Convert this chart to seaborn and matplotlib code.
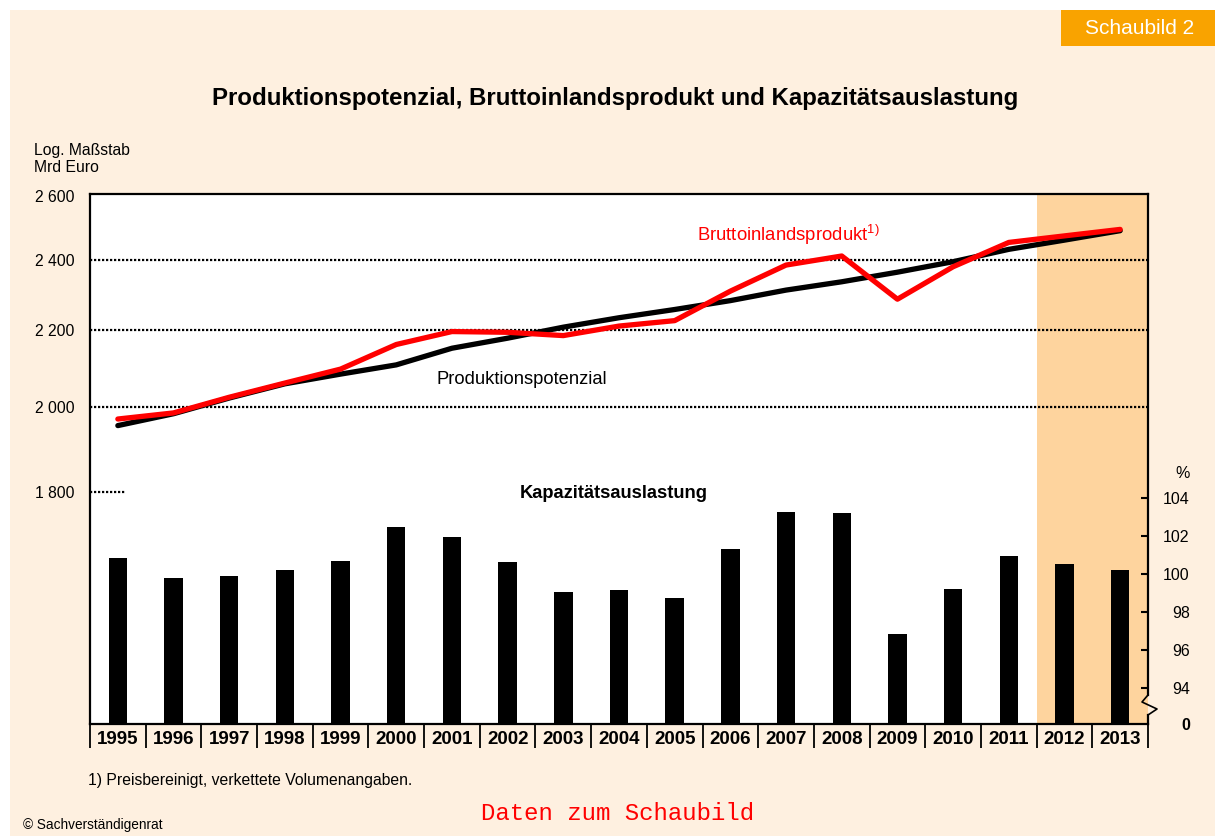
import numpy as np
import pandas as pd
import seaborn as sns
import matplotlib.pyplot as plt
from matplotlib.patches import Rectangle
from matplotlib.ticker import FixedLocator, NullLocator
from matplotlib.transforms import blended_transform_factory

# data
years = [str(y) for y in range(1995, 2014)]
potenzial = [1954, 1983, 2022, 2058, 2083, 2107, 2151, 2178, 2208, 2234,
             2257, 2282, 2312, 2336, 2364, 2395, 2432, 2460, 2489]
bip = [1970, 1985, 2024, 2060, 2096, 2161, 2196, 2194, 2185, 2211,
       2226, 2309, 2385, 2412, 2286, 2380, 2453, 2473, 2493]
auslastung = [100.88, 99.83, 99.93, 100.25, 100.72, 102.51, 101.98, 100.67, 99.09, 99.19,
              98.77, 101.35, 103.3, 103.25, 96.88, 99.25, 100.98, 100.56, 100.25]
prognose_years = ['2012', '2013']
left_ticks = [1800, 2000, 2200, 2400, 2600]
left_labels = ['1 800', '2 000', '2 200', '2 400', '2 600']
right_ticks = [94, 96, 98, 100, 102, 104]

df = pd.DataFrame({'Jahr': years, 'Potenzial': potenzial, 'BIP': bip,
                   'Auslastung': auslastung})

W, H = 1215, 836
BG = '#FEF0E0'
SHADE = '#FED49E'

plt.rcParams['font.family'] = ['Liberation Sans', 'DejaVu Sans']
plt.rcParams['mathtext.default'] = 'regular'


def fx(x):
    return x / W


def fy(y):
    return 1 - y / H


fig = plt.figure(figsize=(W / 100, H / 100), dpi=100, facecolor='white')
fig.add_artist(Rectangle((fx(10), 0), 1, fy(10), transform=fig.transFigure,
                         facecolor=BG, edgecolor='none', zorder=0))
fig.add_artist(Rectangle((fx(1061), fy(46)), fx(W - 1061), 36 / H,
                         transform=fig.transFigure, facecolor='#F9A300',
                         edgecolor='none', zorder=1))
fig.text(fx(1140), fy(28), 'Schaubild 2', color='white', fontsize=15,
         ha='center', va='center')

ax = fig.add_axes([fx(90), fy(724), fx(1148 - 90), 530 / H])
ax.set_facecolor('white')

# log scale lines
sns.lineplot(data=df, x='Jahr', y='Potenzial', ax=ax, color='black', lw=3.8,
             solid_capstyle='round', zorder=4)
sns.lineplot(data=df, x='Jahr', y='BIP', ax=ax, color='#FF0000', lw=3.8,
             solid_capstyle='round', zorder=5)
ax.set_yscale('log')
ax.set_ylim(1349, 2605)
ax.yaxis.set_major_locator(FixedLocator(left_ticks))
ax.yaxis.set_minor_locator(NullLocator())
ax.set_yticklabels(left_labels)
ax.tick_params(axis='y', length=0, pad=11, labelsize=11.3)
ax.set_xlabel('')
ax.set_ylabel('')

start = years.index(prognose_years[0]) - 0.5
end = years.index(prognose_years[-1]) + 0.5
ax.axvspan(start, end, color=SHADE, lw=0, zorder=0)

for v in left_ticks[1:-1]:
    ax.axhline(v, color='black', lw=1.6, ls=(0, (1, 0.8)), zorder=2)
ax.axhline(left_ticks[0], xmax=35 / 1058, color='black', lw=1.6,
           ls=(0, (1, 0.8)), zorder=2)

# capacity bars on a second axis
ax2 = ax.twinx()
sns.barplot(data=df, x='Jahr', y='Auslastung', ax=ax2, color='black',
            saturation=1, width=0.33, zorder=3)
ax2.set_ylim(92.13, 120)
ax2.set_yticks(right_ticks)
ax2.tick_params(axis='y', direction='in', length=5, width=1.5, pad=30,
                labelsize=11.5)
for lbl in ax2.get_yticklabels():
    lbl.set_ha('right')
ax2.set_ylabel('')
ax2.set_xlabel('')

ax.set_xlim(-0.5, len(years) - 0.5)
ax.set_xticks(range(len(years)))
ax.set_xticklabels(years, fontsize=13.5, fontweight='bold')
ax.tick_params(axis='x', length=0, pad=5)

for a in (ax, ax2):
    for side in ('top', 'left', 'bottom', 'right'):
        a.spines[side].set_visible(False)
for side in ('top', 'left', 'bottom'):
    ax.spines[side].set_visible(True)
    ax.spines[side].set_linewidth(1.6)
    ax.spines[side].set_color('black')

# right spine with axis break
t = ax2.transAxes
pw = 1058
ph = 530
ax2.plot([1, 1], [0, 9 / ph], transform=t, clip_on=False, color='black', lw=1.6)
ax2.plot([1, 1 - 6 / pw, 1 + 9 / pw, 1], [29 / ph, 22 / ph, 15 / ph, 9 / ph],
         transform=t, clip_on=False, color='black', lw=1.2)
ax2.plot([1, 1], [29 / ph, 1], transform=t, clip_on=False, color='black', lw=1.6)

# year boxes below the axis
trans = blended_transform_factory(ax.transData, ax.transAxes)
ax.vlines(np.arange(len(years) + 1) - 0.5, -24 / ph, 0, transform=trans,
          clip_on=False, color='black', lw=1.3)

# texts
fig.text(fx(615), fy(99), 'Produktionspotenzial, Bruttoinlandsprodukt und Kapazitätsauslastung',
         fontsize=17.3, fontweight='bold', ha='center', va='center')
fig.text(fx(34), fy(150), 'Log. Maßstab', fontsize=11.3, ha='left', va='center')
fig.text(fx(34), fy(167), 'Mrd Euro', fontsize=11.3, ha='left', va='center')
fig.text(fx(697), fy(241), r'Bruttoinlandsprodukt$^{1)}$', color='#FF0000',
         fontsize=13.3, ha='left', va='baseline')
fig.text(fx(437), fy(384), 'Produktionspotenzial', fontsize=13.2,
         ha='left', va='baseline')
fig.text(fx(614), fy(493), 'Kapazitätsauslastung', fontsize=13.2,
         fontweight='bold', ha='center', va='center')
fig.text(fx(1183), fy(473), '%', fontsize=11.5, ha='center', va='center')
fig.text(fx(1190), fy(725), '0', fontsize=11.5, fontweight='bold',
         ha='right', va='center')
fig.text(fx(88), fy(781), '1) Preisbereinigt, verkettete Volumenangaben.',
         fontsize=11.3, ha='left', va='center')
fig.text(fx(23), fy(825), '© Sachverständigenrat', fontsize=9.8,
         ha='left', va='center')
fig.text(fx(481), fy(814), 'Daten zum Schaubild', family='Liberation Mono',
         color='#FF0000', fontsize=17.3, ha='left', va='center')

fig.savefig('out.png', dpi=100, facecolor=fig.get_facecolor())
